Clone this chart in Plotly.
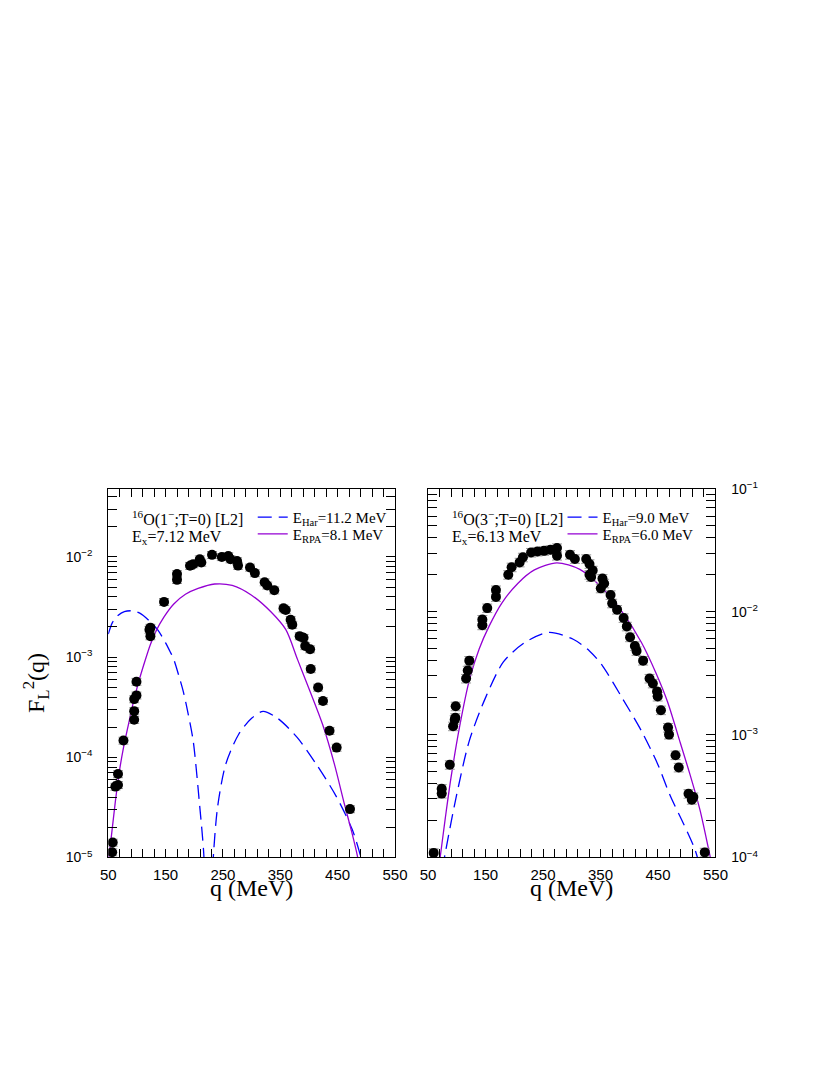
import plotly.graph_objects as go

# ---- left panel: 16O(1-;T=0), Ex = 7.12 MeV ----
q1_exp = [56.8, 57.8, 62.4, 67.0, 67.0, 76.5, 95.2, 95.2, 95.2, 99.2, 99.2,
          121.8, 123.5, 123.5, 147.3, 169.9, 169.9, 192.6, 198.2, 209.6, 212.3,
          231.0, 248.0, 259.3, 263.2, 274.6, 276.3, 297.2, 305.7, 322.7, 327.3,
          339.6, 355.6, 359.5, 368.0, 370.9, 383.8, 390.6, 393.5, 402.0, 403.1,
          416.0, 424.5, 435.9, 448.3, 471.6]
f1_exp = [1.13e-5, 1.41e-5, 5.1e-5, 5.3e-5, 6.8e-5, 1.47e-4, 2.37e-4, 2.89e-4, 3.81e-4, 4.15e-4, 5.69e-4,
          1.88e-3, 1.62e-3, 1.97e-3, 3.56e-3, 6.76e-3, 5.91e-3, 8.17e-3, 8.48e-3, 9.5e-3, 8.79e-3,
          1.05e-2, 1.0e-2, 1.02e-2, 9.5e-3, 9.1e-3, 8.2e-3, 7.85e-3, 6.9e-3, 5.6e-3, 5.2e-3,
          4.65e-3, 3.07e-3, 2.96e-3, 2.36e-3, 2.11e-3, 1.62e-3, 1.56e-3, 1.29e-3, 1.2e-3, 7.6e-4,
          4.97e-4, 3.65e-4, 1.84e-4, 1.25e-4, 3.04e-5]

q1_har = [50, 57, 65, 78, 92, 105, 120, 136, 150, 158.7, 164.3, 172.8, 181, 189.7, 198.2, 209.6, 216.4, 220,
          None,
          229, 233.4, 240.7, 254.8, 277.5, 300, 320, 345.4, 379.4, 413, 447.3, 475.5, 489.7, 500]
f1_har = [1.70e-3, 2.2e-3, 2.55e-3, 2.85e-3, 2.9e-3, 2.75e-3, 2.35e-3, 1.88e-3, 1.39e-3, 1.11e-3, 9.5e-4,
          6.6e-4, 4.5e-4, 2.66e-4, 1.45e-4, 3.2e-5, 1.12e-5, 3e-6,
          None,
          3e-6, 1.05e-5, 3.2e-5, 8.5e-5, 1.7e-4, 2.45e-4, 2.88e-4, 2.45e-4, 1.58e-4, 8.5e-5, 4.1e-5,
          1.9e-5, 1.05e-5, 6e-6]

q1_rpa = [49, 51.4, 55.6, 62.4, 69.2, 76.0, 84.5, 93.0, 103.1, 113.3, 123.5, 133.7, 147.3, 164.3,
          184.6, 206.7, 235.6, 266.2, 300, 334, 359.7, 380, 402, 424, 444.5, 461.5, 475, 484.3, 490]
f1_rpa = [8.5e-6, 1.05e-5, 1.66e-5, 3.63e-5, 7.13e-5, 1.2e-4, 2.04e-4, 3.39e-4, 5.69e-4, 8.9e-4,
          1.34e-3, 1.84e-3, 2.52e-3, 3.39e-3, 4.24e-3, 4.85e-3, 5.37e-3, 5.2e-3, 4.15e-3, 2.82e-3,
          1.88e-3, 9.5e-4, 4.54e-4, 2.11e-4, 8.5e-5, 3.47e-5, 1.76e-5, 1.05e-5, 7e-6]

# ---- right panel: 16O(3-;T=0), Ex = 6.13 MeV ----
q2_exp = [59.7, 73.7, 73.7, 87.8, 93.5, 96.3, 98.0, 97.4, 116.1, 119.0, 121.7, 144.4, 144.4,
          152.9, 168.1, 168.1, 189.5, 195.3, 209.3, 215.0, 229.2, 240.3, 251.7, 263.0, 274.3,
          274.3, 296.9, 305.4, 325.1, 330.8, 330.8, 336.4, 333.6, 353.4, 356.3, 350.5, 367.5,
          370.3, 378.8, 390.2, 395.8, 401.4, 409.8, 412.7, 424.1, 435.3, 441.0, 448.3, 449.5,
          455.1, 467.5, 469.2, 480.5, 486.1, 503.1, 508.8, 511.5, 531.4]
f2_exp = [1.09e-4, 3.63e-4, 3.31e-4, 5.68e-4, 1.17e-3, 1.32e-3, 1.70e-3, 1.37e-3, 2.86e-3, 3.33e-3,
          4.0e-3, 8.63e-3, 7.76e-3, 1.07e-2, 1.5e-2, 1.32e-2, 2.0e-2, 2.3e-2, 2.52e-2, 2.77e-2,
          3.03e-2, 3.09e-2, 3.13e-2, 3.19e-2, 3.3e-2, 2.86e-2, 2.91e-2, 2.69e-2, 2.69e-2, 2.45e-2,
          2.0e-2, 2.17e-2, 1.92e-2, 1.86e-2, 1.7e-2, 1.55e-2, 1.37e-2, 1.17e-2, 1.04e-2, 8.9e-3,
          7.6e-3, 6.2e-3, 5.27e-3, 4.8e-3, 4.0e-3, 2.86e-3, 2.61e-3, 2.24e-3, 2.04e-3, 1.58e-3,
          1.14e-3, 1.0e-3, 6.8e-4, 5.4e-4, 3.3e-4, 2.95e-4, 3.1e-4, 1.1e-4]

q2_har = [75, 79.3, 99.2, 121.7, 150, 181, 217.8, 260.2, 302.5, 330.8, 353.4, 387.3, 421.2,
          449.5, 471.5, 494, 514, 520]
f2_har = [8e-5, 1.05e-4, 3.16e-4, 8.9e-4, 2.0e-3, 3.9e-3, 5.6e-3, 6.8e-3, 5.97e-3, 4.8e-3,
          3.63e-3, 2.0e-3, 1.07e-3, 5.75e-4, 3.16e-4, 1.9e-4, 1.17e-4, 9.5e-5]

q2_rpa = [68, 71, 80, 90, 105, 122, 139, 156, 178, 206, 235, 274, 314, 353.4, 387.3, 421.2,
          446.6, 466.4, 489, 506, 522.9, 537, 541]
f2_rpa = [7.9e-5, 1e-4, 2.1e-4, 4.5e-4, 1.17e-3, 2.8e-3, 5.0e-3, 7.6e-3, 1.17e-2, 1.7e-2,
          2.19e-2, 2.5e-2, 2.21e-2, 1.55e-2, 1.0e-2, 5.62e-3, 3.16e-3, 1.86e-3, 8.5e-4, 4.68e-4,
          2.45e-4, 1.23e-4, 1.0e-4]

x_ticks = [50, 150, 250, 350, 450, 550]
y1_decades = [1e-5, 1e-4, 1e-3, 1e-2]
y2_decades = [1e-4, 1e-3, 1e-2, 1e-1]
y1_labels = ["10<sup>−5</sup>", "10<sup>−4</sup>", "10<sup>−3</sup>", "10<sup>−2</sup>"]
y2_labels = ["10<sup>−4</sup>", "10<sup>−3</sup>", "10<sup>−2</sup>", "10<sup>−1</sup>"]

BLUE = "#0000ff"
VIOLET = "#9400d3"
SERIF = "Liberation Serif, Times New Roman, serif"
SANS = "Liberation Sans, Arial, sans-serif"

# page has an 8px body margin, so the figure is a bit smaller than the window
W, H, OFF = 814, 1059, 8


def px(x):
    return (x - OFF) / W


def py(y):
    return 1 - (y - OFF) / H


def log_ticks(decades, labels, top):
    vals, text = [], []
    for d, lab in zip(decades, labels):
        for k in range(1, 10):
            v = d * k
            if v > top:
                break
            vals.append(v)
            text.append(lab if k == 1 else "")
    return vals, text


fig = go.Figure()

panels = [
    (q1_exp, f1_exp, q1_har, f1_har, q1_rpa, f1_rpa, "x", "y", "legend", "legend2",
     "E<sub>Har</sub>=11.2 MeV", "E<sub>RPA</sub>=8.1 MeV"),
    (q2_exp, f2_exp, q2_har, f2_har, q2_rpa, f2_rpa, "x2", "y2", "legend3", "legend4",
     "E<sub>Har</sub>=9.0 MeV", "E<sub>RPA</sub>=6.0 MeV"),
]

for qe, fe, qh, fh, qr, fr, xa, ya, leg_h, leg_r, name_h, name_r in panels:
    fig.add_trace(go.Scatter(
        x=qh, y=fh, mode="lines", name=name_h, legend=leg_h,
        line=dict(color=BLUE, width=1.3, dash="14px,7px", shape="spline", smoothing=0.8),
        connectgaps=False, xaxis=xa, yaxis=ya))
    fig.add_trace(go.Scatter(
        x=qr, y=fr, mode="lines", name=name_r, legend=leg_r,
        line=dict(color=VIOLET, width=1.3, shape="spline", smoothing=0.8),
        xaxis=xa, yaxis=ya))
    fig.add_trace(go.Scatter(
        x=qe, y=fe, mode="markers", showlegend=False,
        marker=dict(color="black", size=10),
        error_y=dict(type="percent", value=8, color="#999999", thickness=1, width=5),
        xaxis=xa, yaxis=ya))

y1_vals, y1_text = log_ticks(y1_decades, y1_labels, 0.048)
y2_vals, y2_text = log_ticks(y2_decades, y2_labels, 0.1)

xcommon = dict(range=[50, 550], tickvals=x_ticks, ticks="inside", ticklen=8,
               tickcolor="black", showline=True, linecolor="black", linewidth=1,
               mirror="ticks", showgrid=False, zeroline=False, ticklabelstandoff=4,
               tickfont=dict(family=SANS, size=15, color="black"),
               minor=dict(dtick=20, tick0=50, ticks="inside", ticklen=8, tickcolor="black"))
ycommon = dict(type="log", ticks="inside", ticklen=9, tickcolor="black",
               showline=True, linecolor="black", linewidth=1, mirror="ticks",
               showgrid=False, zeroline=False, ticklabelstandoff=12,
               tickfont=dict(family=SANS, size=14, color="black"))

legend_style = dict(xanchor="left", yanchor="middle", bgcolor="rgba(0,0,0,0)",
                    font=dict(family=SERIF, size=15, color="black"), itemwidth=30)

fig.update_layout(
    width=W, height=H,
    paper_bgcolor="white", plot_bgcolor="white",
    margin=dict(l=0, r=0, t=0, b=0),
    showlegend=True,
    xaxis=dict(domain=[px(102.7), px(397)], anchor="y", **xcommon),
    xaxis2=dict(domain=[px(431), px(726)], anchor="y2", **xcommon),
    yaxis=dict(domain=[py(862), py(487)], anchor="x", range=[-5, -1.32],
               tickvals=y1_vals, ticktext=y1_text, side="left", **ycommon),
    yaxis2=dict(domain=[py(862), py(487)], anchor="x2", range=[-4, -1],
                tickvals=y2_vals, ticktext=y2_text, side="right", **ycommon),
    legend=dict(x=px(251), y=py(516), **legend_style),
    legend2=dict(x=px(251), y=py(533), **legend_style),
    legend3=dict(x=px(569), y=py(516), **legend_style),
    legend4=dict(x=px(569), y=py(533), **legend_style),
)

ann_font = dict(family=SERIF, size=16, color="black")
texts = [
    ("x domain", "y domain", "<sup>16</sup>O(1<sup>−</sup>;T=0) [L2]", 0.92),
    ("x domain", "y domain", "E<sub>x</sub>=7.12 MeV", 0.868),
    ("x2 domain", "y2 domain", "<sup>16</sup>O(3<sup>−</sup>;T=0) [L2]", 0.92),
    ("x2 domain", "y2 domain", "E<sub>x</sub>=6.13 MeV", 0.868),
]
for xr, yr, t, yy in texts:
    fig.add_annotation(xref=xr, yref=yr, x=0.075, y=yy, text=t, showarrow=False,
                       xanchor="left", yanchor="middle", font=ann_font)

title_font = dict(family=SERIF, size=24, color="black")
fig.add_annotation(xref="paper", yref="paper", x=px(250), y=py(893), text="q (MeV)",
                   showarrow=False, xanchor="center", yanchor="middle", font=title_font)
fig.add_annotation(xref="paper", yref="paper", x=px(578), y=py(893), text="q (MeV)",
                   showarrow=False, xanchor="center", yanchor="middle", font=title_font)
fig.add_annotation(xref="paper", yref="paper", x=px(28), y=py(684),
                   text="F<sub>L</sub><sup>2</sup>(q)", textangle=-90,
                   showarrow=False, xanchor="center", yanchor="middle", font=title_font)

fig.write_html("out.html")
